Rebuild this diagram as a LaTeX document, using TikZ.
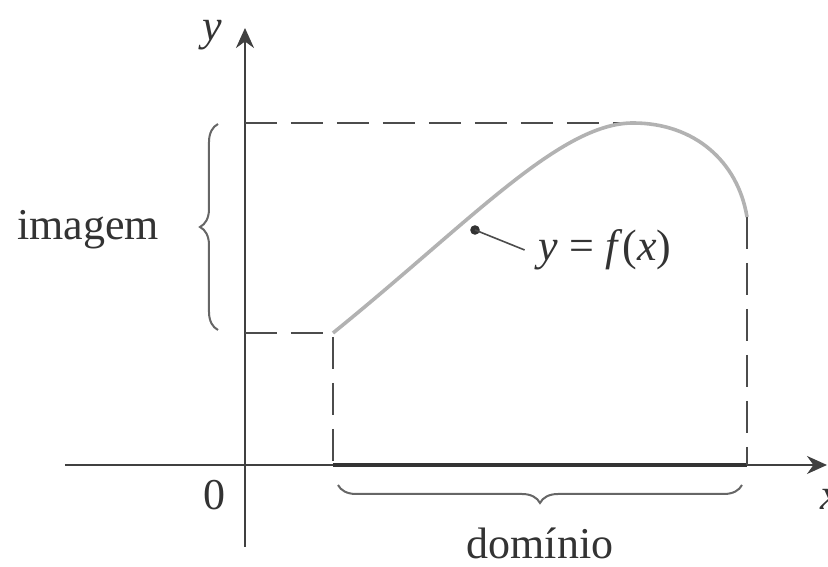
\documentclass[tikz,border=0pt]{standalone}
\usepackage{fontspec}
\setmainfont{Liberation Serif}
\usetikzlibrary{arrows.meta, decorations.pathreplacing}

\begin{document}
\begin{tikzpicture}[
    x=25pt, y=25pt,
    axis/.style={draw=black!75, line width=0.5pt},
    guide/.style={draw=black!70, line width=0.6pt, dash pattern=on 8pt off 3.5pt},
    graph/.style={draw=black!30, line width=0.9pt},
    brc/.style={draw=black!60, line width=0.5pt, decorate, decoration={brace, amplitude=4.5pt}},
    every node/.style={font=\fontsize{11}{13}\selectfont, text=black!80}
  ]
  \useasboundingbox (0,0) rectangle (8.28,5.67);

  % --- Axes ---
  \coordinate (O) at (2.45,1.02);
  \coordinate (xl) at (0.65,1.02);
  \coordinate (xr) at (8.27,1.02);
  \coordinate (yb) at (2.45,0.20);
  \coordinate (yt) at (2.45,5.39);
  \draw[axis, -{Stealth[length=5pt, width=4.5pt]}] (xl) -- (xr);
  \draw[axis, -{Stealth[length=5pt, width=4.5pt]}] (yb) -- (yt);

  \node (ylbl) at (2.12,5.32) {\textit{y}};
  \node (zero) at (2.15,0.72) {0};
  \node (xlbl) at (8.30,0.68) {\textit{x}};

  % --- Points of the graph ---
  \coordinate (A) at (3.33,2.34);
  \coordinate (M) at (6.33,4.44);
  \coordinate (B) at (7.47,3.50);
  \coordinate (A0) at (3.33,1.02);
  \coordinate (B0) at (7.47,1.02);
  \coordinate (Ay) at (2.45,2.34);
  \coordinate (My) at (2.45,4.44);

  % domain on the x axis
  \draw[black!80, line width=1.1pt] (A0) -- (B0);

  % dashed guides
  \draw[guide] (Ay) -- (A) -- (A0);
  \draw[guide] (My) -- (M);
  \draw[guide] (B) -- (B0);

  % the curve
  \draw[graph] (A) .. controls (4.7,3.45) and (5.6,4.44) .. (M)
               .. controls (6.95,4.44) and (7.38,4.05) .. (B);

  % --- Braces ---
  \draw[brc] (2.18,2.37) -- (2.18,4.43);
  \draw[brc] (7.42,0.82) -- (3.38,0.82);

  \node (img) at (0.88,3.37) {imagem};
  \node (dom) at (5.40,0.24) {domínio};

  % label of the curve
  \node (flbl) at (6.05,3.17) {\textit{y} = \textit{f}(\textit{x})};
  \coordinate (dot) at (4.75,3.37);
  \fill[black!80] (dot) circle (1.2pt);
  \draw[black!70, line width=0.4pt] (dot) -- (flbl.west);
\end{tikzpicture}
\end{document}
